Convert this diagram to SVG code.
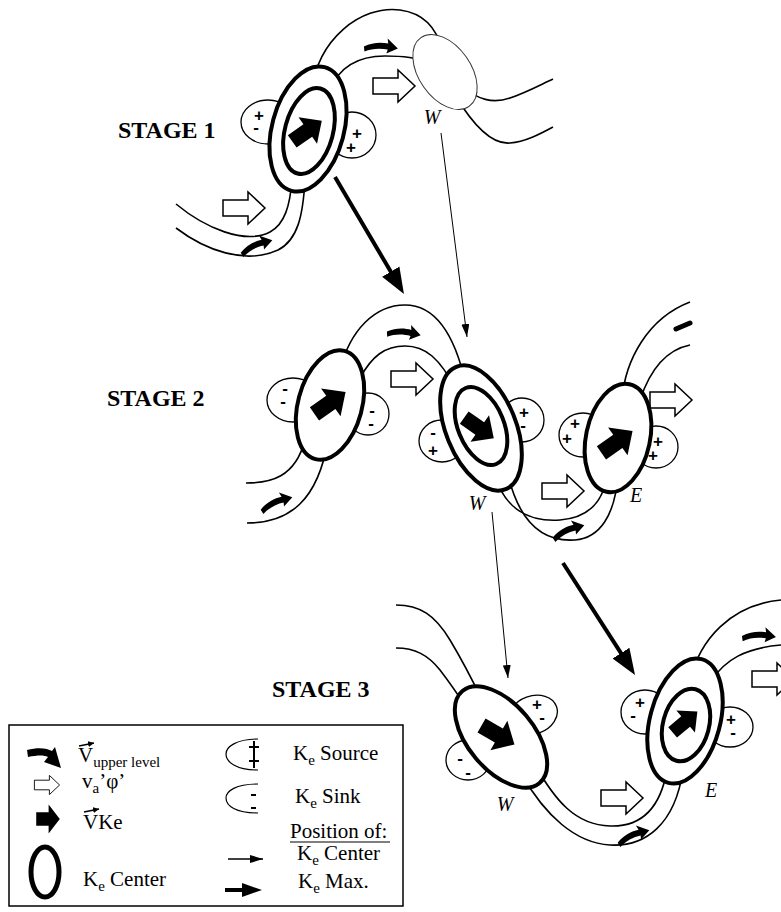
<svg xmlns="http://www.w3.org/2000/svg" xmlns:xlink="http://www.w3.org/1999/xlink" width="781" height="912" viewBox="0 0 781 912">
<style>
.wave{fill:none;stroke:#000;stroke-width:1.6}
.ctr{fill:#fff;stroke:#000;stroke-width:4}
.lobe{fill:#fff;stroke:#000;stroke-width:1.3}
.sg{font-family:"Liberation Sans",Arial,sans-serif;font-weight:bold;font-size:17px;text-anchor:middle}
.stage{font-family:"Liberation Serif","Times New Roman",serif;font-weight:bold;font-size:24px}
.lbl{font-family:"Liberation Serif","Times New Roman",serif;font-style:italic;font-size:20px;text-anchor:middle}
.leg{font-family:"Liberation Serif","Times New Roman",serif;font-size:21px}
.sub{font-size:15px}
</style>
<defs>
<path id="barrow" d="M -19 -8 L 1 -8 L 1 -17 L 19 0 L 1 17 L 1 8 L -19 8 Z" fill="#000"/>
<path id="warrow" d="M -21 -8 L 4 -8 L 4 -16 L 21 0 L 4 16 L 4 8 L -21 8 Z" fill="#fff" stroke="#000" stroke-width="1.5"/>
<path id="carrow" d="M -17 2 C -9 -3, 0 -4, 7 -3 L 6 -8 L 17 1 L 6 7 L 7 3 C 0 2, -9 3, -16 7 Z" fill="#000"/>
<marker id="mThick" markerUnits="userSpaceOnUse" markerWidth="28" markerHeight="22" refX="6" refY="11" orient="auto"><path d="M0,1 L26,11 L0,21 Z" fill="#000"/></marker>
<marker id="mThickS" markerUnits="userSpaceOnUse" markerWidth="22" markerHeight="16" refX="4" refY="8" orient="auto"><path d="M0,1 L20,8 L0,15 Z" fill="#000"/></marker>
<marker id="mThin" markerUnits="userSpaceOnUse" markerWidth="14" markerHeight="8" refX="13" refY="4" orient="auto"><path d="M0,0 L13,4 L0,8 Z" fill="#000"/></marker>
<marker id="mTiny" markerUnits="userSpaceOnUse" markerWidth="7" markerHeight="6" refX="6" refY="3" orient="auto"><path d="M0,0 L6,3 L0,6 Z" fill="#000"/></marker>
</defs>
<rect width="781" height="912" fill="#fff"/>

<g id="waves">
<path class="wave" d="M 176 204 C 205 228, 245 245, 270 232 C 285 224, 290 205, 292 180"/>
<path class="wave" d="M 176 228 C 205 250, 245 265, 278 250 C 298 240, 303 215, 305 180"/>
<path class="wave" d="M 312 90 C 318 40, 360 5, 400 10 C 422 13, 436 25, 442 50"/>
<path class="wave" d="M 330 90 C 340 65, 360 56, 385 56 C 405 56, 415 58, 432 62"/>
<path class="wave" d="M 460 85 C 478 100, 493 104, 510 98 C 525 93, 540 85, 553 79"/>
<path class="wave" d="M 455 95 C 470 120, 490 145, 510 143 C 525 142, 540 134, 553 127"/>
<path class="wave" d="M 246 483 C 270 483, 295 478, 305 440"/>
<path class="wave" d="M 247 523 C 290 523, 318 500, 328 440"/>
<path class="wave" d="M 340 370 C 350 330, 375 305, 405 305 C 435 305, 455 335, 466 385"/>
<path class="wave" d="M 360 378 C 372 356, 385 346, 405 346 C 425 346, 440 358, 456 390"/>
<path class="wave" d="M 495 475 C 505 510, 530 522, 560 520 C 585 518, 603 505, 607 475"/>
<path class="wave" d="M 508 475 C 520 525, 545 542, 575 540 C 600 538, 615 515, 618 475"/>
<path class="wave" d="M 622 400 C 625 360, 648 318, 690 302"/>
<path class="wave" d="M 640 400 C 650 370, 665 350, 690 345"/>
<path class="wave" d="M 396 605 C 420 605, 435 615, 450 640 C 462 660, 470 675, 482 700"/>
<path class="wave" d="M 396 648 C 415 648, 428 655, 440 670 C 450 683, 455 690, 468 710"/>
<path class="wave" d="M 535 765 C 555 800, 575 825, 610 826 C 640 827, 660 810, 667 770"/>
<path class="wave" d="M 522 775 C 545 815, 575 843, 610 845 C 645 847, 675 825, 683 770"/>
<path class="wave" d="M 690 680 C 700 640, 730 605, 781 600"/>
<path class="wave" d="M 712 680 C 725 660, 745 648, 781 645"/>
</g>

<g id="flows">
<use xlink:href="#carrow" transform="translate(381,46) rotate(5)"/>
<use xlink:href="#warrow" transform="translate(394,86)"/>
<use xlink:href="#warrow" transform="translate(244,208)"/>
<use xlink:href="#carrow" transform="translate(256,245) rotate(-20)"/>
<use xlink:href="#carrow" transform="translate(404,332) rotate(8)"/>
<use xlink:href="#warrow" transform="translate(412,379)"/>
<use xlink:href="#carrow" transform="translate(276,502) rotate(-20)"/>
<use xlink:href="#warrow" transform="translate(563,491)"/>
<use xlink:href="#carrow" transform="translate(568,530) rotate(-20)"/>
<path d="M 676 329 L 690 323" stroke="#000" stroke-width="5" stroke-linecap="round"/>
<use xlink:href="#warrow" transform="translate(671,400)"/>
<use xlink:href="#warrow" transform="translate(622,798)"/>
<use xlink:href="#carrow" transform="translate(633,835) rotate(-20)"/>
<use xlink:href="#carrow" transform="translate(759,635) rotate(3)"/>
<use xlink:href="#warrow" transform="translate(773,679)"/>
</g>

<g id="stage1-center">
<ellipse class="lobe" cx="268" cy="122" rx="27" ry="22"/>
<ellipse class="lobe" cx="352" cy="135" rx="24" ry="23"/>
<ellipse class="ctr" cx="308" cy="129" rx="36" ry="64" transform="rotate(15 308 129)"/>
<ellipse class="ctr" cx="309" cy="131" rx="24" ry="44" transform="rotate(15 309 131)"/>
<use xlink:href="#barrow" transform="translate(307,131) rotate(-35) scale(0.95)"/>
<text class="sg"><tspan x="259" y="121">+</tspan><tspan x="256" y="133">-</tspan></text>
<text class="sg"><tspan x="357" y="139">+</tspan><tspan x="351" y="153">+</tspan></text>
</g>

<g id="stage1-W">
<ellipse cx="445" cy="72" rx="26" ry="42" fill="#fff" stroke="#333" stroke-width="1" transform="rotate(-35 445 72)"/>
<text class="lbl" x="432" y="124">W</text>
</g>

<g id="stage2-left">
<ellipse class="lobe" cx="293" cy="400" rx="26" ry="22"/>
<ellipse class="lobe" cx="368" cy="414" rx="21" ry="21"/>
<ellipse class="ctr" cx="330" cy="405" rx="32" ry="56" transform="rotate(15 330 405)"/>
<use xlink:href="#barrow" transform="translate(330,403) rotate(-35)"/>
<text class="sg"><tspan x="285" y="394">-</tspan><tspan x="283" y="407">-</tspan></text>
<text class="sg"><tspan x="372" y="416">-</tspan><tspan x="371" y="429">-</tspan></text>
</g>

<g id="stage2-W">
<ellipse class="lobe" cx="442" cy="441" rx="23" ry="21"/>
<ellipse class="lobe" cx="522" cy="420" rx="22" ry="22"/>
<ellipse class="ctr" cx="481" cy="428" rx="35" ry="66" transform="rotate(-22 481 428)"/>
<ellipse class="ctr" cx="481" cy="426" rx="23" ry="41" transform="rotate(-22 481 426)"/>
<use xlink:href="#barrow" transform="translate(479,428) rotate(35) scale(0.95)"/>
<text class="sg"><tspan x="433" y="438">-</tspan><tspan x="433" y="456">+</tspan></text>
<text class="sg"><tspan x="524" y="418">+</tspan><tspan x="523" y="431">-</tspan></text>
<text class="lbl" x="477" y="510">W</text>
</g>

<g id="stage2-E">
<ellipse class="lobe" cx="583" cy="435" rx="24" ry="22"/>
<ellipse class="lobe" cx="656" cy="447" rx="22" ry="21"/>
<ellipse class="ctr" cx="618" cy="438" rx="32" ry="55" transform="rotate(12 618 438)"/>
<use xlink:href="#barrow" transform="translate(617,442) rotate(-35)"/>
<text class="sg"><tspan x="575" y="429">+</tspan><tspan x="567" y="444">+</tspan></text>
<text class="sg"><tspan x="658" y="447">+</tspan><tspan x="653" y="461">+</tspan></text>
<text class="lbl" x="636" y="502">E</text>
</g>

<g id="stage3-W">
<ellipse class="lobe" cx="533" cy="715" rx="25" ry="19" transform="rotate(-20 533 715)"/>
<ellipse class="lobe" cx="468" cy="760" rx="22" ry="20"/>
<ellipse class="ctr" cx="501" cy="737" rx="33" ry="60" transform="rotate(-40 501 737)"/>
<use xlink:href="#barrow" transform="translate(498,735) rotate(30)"/>
<text class="sg"><tspan x="537" y="710">+</tspan><tspan x="542" y="723">-</tspan></text>
<text class="sg"><tspan x="460" y="764">-</tspan><tspan x="468" y="778">-</tspan></text>
<text class="lbl" x="505" y="811">W</text>
</g>

<g id="stage3-E">
<ellipse class="lobe" cx="645" cy="712" rx="24" ry="22"/>
<ellipse class="lobe" cx="730" cy="727" rx="23" ry="20"/>
<ellipse class="ctr" cx="685" cy="721" rx="35" ry="64" transform="rotate(15 685 721)"/>
<ellipse class="ctr" cx="686" cy="725" rx="23" ry="37" transform="rotate(15 686 725)"/>
<use xlink:href="#barrow" transform="translate(685,722) rotate(-40) scale(0.85)"/>
<text class="sg"><tspan x="640" y="708">+</tspan><tspan x="633" y="721">-</tspan></text>
<text class="sg"><tspan x="731" y="725">+</tspan><tspan x="733" y="738">-</tspan></text>
<text class="lbl" x="711" y="797">E</text>
</g>

<g id="connectors">
<line x1="335" y1="177" x2="393.8" y2="276.8" stroke="#000" stroke-width="4" marker-end="url(#mThick)"/>
<line x1="563" y1="563" x2="624.2" y2="658.2" stroke="#000" stroke-width="4" marker-end="url(#mThick)"/>
<line x1="441" y1="133" x2="467" y2="337" stroke="#000" stroke-width="1" marker-end="url(#mThin)"/>
<line x1="492" y1="512" x2="508" y2="678" stroke="#000" stroke-width="1" marker-end="url(#mThin)"/>
</g>

<g id="stage-labels">
<text class="stage" x="118" y="138">STAGE 1</text>
<text class="stage" x="107" y="406">STAGE 2</text>
<text class="stage" x="272" y="697">STAGE 3</text>
</g>

<g id="legend">
<rect x="9" y="725" width="394" height="181" fill="none" stroke="#000" stroke-width="1.5"/>
<path d="M 27 750 C 38 747, 47 748, 52 751 L 55 747 L 61 768 L 44 762 L 48 757 C 44 755, 38 755, 28 757 Z" fill="#000"/>
<line x1="79" y1="746" x2="94" y2="743" stroke="#000" stroke-width="1.3" marker-end="url(#mTiny)"/>
<text class="leg" x="78" y="762">V<tspan class="sub" dy="5">upper level</tspan></text>
<use xlink:href="#warrow" transform="translate(47,785) scale(0.6)"/>
<text class="leg" x="82" y="788">v<tspan class="sub" dy="5">a</tspan><tspan dy="-5">’φ’</tspan></text>
<use xlink:href="#barrow" transform="translate(48,819) scale(0.62,0.85)"/>
<line x1="84" y1="812" x2="99" y2="809" stroke="#000" stroke-width="1.3" marker-end="url(#mTiny)"/>
<text class="leg" x="83" y="829">VKe</text>
<ellipse cx="45" cy="872" rx="14" ry="25" fill="none" stroke="#000" stroke-width="5"/>
<text class="leg" x="83" y="886">K<tspan class="sub" dy="5">e</tspan><tspan dy="-5"> Center</tspan></text>
<path d="M 258 739 C 236 739, 226 747, 226 754 C 226 762, 236 770, 258 770" fill="none" stroke="#000" stroke-width="1.2"/>
<path d="M 254 741 L 254 768 M 249 747 L 259 747 M 249 761 L 259 761" stroke="#000" stroke-width="2"/>
<text class="leg" x="293" y="760">K<tspan class="sub" dy="5">e</tspan><tspan dy="-5"> Source</tspan></text>
<path d="M 258 784 C 236 784, 226 791, 226 798 C 226 806, 236 813, 258 813" fill="none" stroke="#000" stroke-width="1.2"/>
<path d="M 251 795 L 256 795 M 251 808 L 256 808" stroke="#000" stroke-width="2"/>
<text class="leg" x="295" y="803">K<tspan class="sub" dy="5">e</tspan><tspan dy="-5"> Sink</tspan></text>
<text class="leg" x="290" y="838">Position of:</text>
<line x1="290" y1="842" x2="390" y2="842" stroke="#000" stroke-width="1.2"/>
<line x1="228" y1="859" x2="263" y2="859" stroke="#000" stroke-width="1.5" marker-end="url(#mThin)"/>
<text class="leg" x="297" y="860">K<tspan class="sub" dy="5">e</tspan><tspan dy="-5"> Center</tspan></text>
<line x1="225" y1="890" x2="246" y2="890" stroke="#000" stroke-width="4" marker-end="url(#mThickS)"/>
<text class="leg" x="298" y="888">K<tspan class="sub" dy="5">e</tspan><tspan dy="-5"> Max.</tspan></text>
</g>
</svg>
